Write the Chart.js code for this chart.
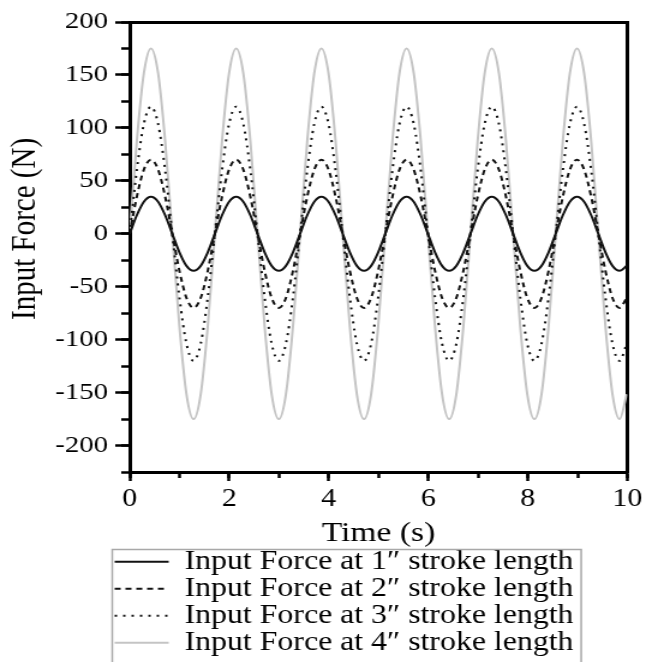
<!DOCTYPE html>
<html>
<head>
<meta charset="utf-8">
<script src="https://cdn.jsdelivr.net/npm/chart.js@4/dist/chart.umd.min.js"></script>
<style>
  html, body { margin: 0; padding: 0; background: #fff; overflow: hidden; }
  #wrap { position: absolute; left: 0; top: 0; width: 538px; height: 662px;
          transform: scaleX(1.2007); transform-origin: 0 0; }
</style>
</head>
<body>
<div id="wrap"><canvas id="c" width="538" height="662"></canvas></div>
<script>
// ---- data ----
const times = [0, 0.143, 0.285, 0.428, 0.571, 0.713, 0.856, 0.999, 1.141, 1.284, 1.427, 1.569,
  1.712, 1.855, 1.997, 2.140, 2.283, 2.425, 2.568, 2.711, 2.853, 2.996, 3.139, 3.281,
  3.424, 3.567, 3.709, 3.852, 3.995, 4.137, 4.280, 4.423, 4.565, 4.708, 4.851, 4.993,
  5.136, 5.279, 5.421, 5.564, 5.707, 5.849, 5.992, 6.135, 6.277, 6.420, 6.563, 6.705,
  6.848, 6.991, 7.133, 7.276, 7.419, 7.561, 7.704, 7.847, 7.989, 8.132, 8.275, 8.417,
  8.560, 8.703, 8.845, 8.988, 9.131, 9.273, 9.416, 9.559, 9.701, 9.844, 9.987];

const force1 = [0, 17.5, 30.3, 35, 30.3, 17.5, 0, -17.5, -30.3, -35, -30.3, -17.5,
  0, 17.5, 30.3, 35, 30.3, 17.5, 0, -17.5, -30.3, -35, -30.3, -17.5,
  0, 17.5, 30.3, 35, 30.3, 17.5, 0, -17.5, -30.3, -35, -30.3, -17.5,
  0, 17.5, 30.3, 35, 30.3, 17.5, 0, -17.5, -30.3, -35, -30.3, -17.5,
  0, 17.5, 30.3, 35, 30.3, 17.5, 0, -17.5, -30.3, -35, -30.3, -17.5,
  0, 17.5, 30.3, 35, 30.3, 17.5, 0, -17.5, -30.3, -35, -30.3];

const force2 = [0, 35, 60.6, 70, 60.6, 35, 0, -35, -60.6, -70, -60.6, -35,
  0, 35, 60.6, 70, 60.6, 35, 0, -35, -60.6, -70, -60.6, -35,
  0, 35, 60.6, 70, 60.6, 35, 0, -35, -60.6, -70, -60.6, -35,
  0, 35, 60.6, 70, 60.6, 35, 0, -35, -60.6, -70, -60.6, -35,
  0, 35, 60.6, 70, 60.6, 35, 0, -35, -60.6, -70, -60.6, -35,
  0, 35, 60.6, 70, 60.6, 35, 0, -35, -60.6, -70, -60.6];

const force3 = [0, 60, 103.9, 120, 103.9, 60, 0, -60, -103.9, -120, -103.9, -60,
  0, 60, 103.9, 120, 103.9, 60, 0, -60, -103.9, -120, -103.9, -60,
  0, 60, 103.9, 120, 103.9, 60, 0, -60, -103.9, -120, -103.9, -60,
  0, 60, 103.9, 120, 103.9, 60, 0, -60, -103.9, -120, -103.9, -60,
  0, 60, 103.9, 120, 103.9, 60, 0, -60, -103.9, -120, -103.9, -60,
  0, 60, 103.9, 120, 103.9, 60, 0, -60, -103.9, -120, -103.9];

const force4 = [0, 87.5, 151.6, 175, 151.6, 87.5, 0, -87.5, -151.6, -175, -151.6, -87.5,
  0, 87.5, 151.6, 175, 151.6, 87.5, 0, -87.5, -151.6, -175, -151.6, -87.5,
  0, 87.5, 151.6, 175, 151.6, 87.5, 0, -87.5, -151.6, -175, -151.6, -87.5,
  0, 87.5, 151.6, 175, 151.6, 87.5, 0, -87.5, -151.6, -175, -151.6, -87.5,
  0, 87.5, 151.6, 175, 151.6, 87.5, 0, -87.5, -151.6, -175, -151.6, -87.5,
  0, 87.5, 151.6, 175, 151.6, 87.5, 0, -87.5, -151.6, -175, -151.6];

const seriesLabels = [
  'Input Force at 1\u2033 stroke length',
  'Input Force at 2\u2033 stroke length',
  'Input Force at 3\u2033 stroke length',
  'Input Force at 4\u2033 stroke length'
];
const xTitle = 'Time (s)';
const yTitle = 'Input Force (N)';
const xMin = 0, xMax = 10, xMajorStep = 2, xMinorStep = 1;
const yMin = -225, yMax = 200, yMajorStep = 50, yMinorStep = 25;

// ---- chart ----
const SERIF = '"Liberation Serif", "Times New Roman", serif';
Chart.defaults.font.family = SERIF;
Chart.defaults.color = '#000';

const toPts = arr => times.map((t, i) => ({ x: t, y: arr[i] }));

const styles = [
  { borderColor: '#111111', borderWidth: 2, borderDash: [] },
  { borderColor: '#111111', borderWidth: 2, borderDash: [5, 4] },
  { borderColor: '#111111', borderWidth: 2, borderDash: [2, 5] },
  { borderColor: '#c4c4c4', borderWidth: 2, borderDash: [] }
];
const allSeries = [force1, force2, force3, force4];

const datasets = allSeries.map((arr, i) => Object.assign({
  label: seriesLabels[i],
  data: toPts(arr),
  xAxisID: 'x',
  yAxisID: 'y',
  pointRadius: 0,
  fill: false,
  cubicInterpolationMode: 'monotone',
  borderCapStyle: 'butt'
}, styles[i]));

const LEGEND_START = 95.5;
const legendFrame = {
  id: 'legendFrame',
  afterLayout(chart) {
    const lg = chart.legend;
    if (!lg || !lg.lineWidths) return;
    const pad = lg.options.labels.padding;
    const cur = (lg.left + pad + lg.right - lg.lineWidths[0]) / 2;
    const dx = LEGEND_START - cur;
    lg.left += dx; lg.right += dx;
  },
  afterDraw(chart) {
    const lg = chart.legend;
    if (!lg || !lg.lineWidths) return;
    const pad = lg.options.labels.padding;
    const start = (lg.left + pad + lg.right - lg.lineWidths[0]) / 2;
    const ctx = chart.ctx;
    ctx.save();
    ctx.strokeStyle = '#a8a8a8';
    ctx.lineWidth = 1.5;
    ctx.strokeRect(start - 2, lg.top + 1.5, lg.lineWidths[0] + 8, 200);
    ctx.restore();
  }
};

const tickFont = size => ({ size, family: SERIF });
const blackGrid = { drawOnChartArea: false, tickColor: '#000' };

new Chart(document.getElementById('c'), {
  type: 'line',
  data: { datasets },
  plugins: [legendFrame],
  options: {
    responsive: false,
    animation: false,
    devicePixelRatio: 1,
    layout: { padding: { left: 0, right: 15, top: 22, bottom: -4 } },
    plugins: {
      tooltip: { enabled: false },
      legend: {
        position: 'bottom',
        align: 'center',
        labels: {
          usePointStyle: true,
          pointStyle: 'line',
          pointStyleWidth: 45,
          padding: 0.5,
          color: '#000',
          font: { size: 26.5, family: SERIF },
          generateLabels(chart) {
            const items = Chart.defaults.plugins.legend.labels.generateLabels(chart);
            items.forEach(it => {
              const ds = chart.data.datasets[it.datasetIndex];
              it.lineDash = ds.borderDash;
              it.lineWidth = ds.borderWidth;
              it.strokeStyle = ds.borderColor;
              it.lineCap = 'butt';
              it.pointStyle = 'line';
            });
            return items;
          }
        }
      }
    },
    scales: {
      x: {
        type: 'linear', position: 'bottom', weight: 1,
        min: xMin, max: xMax,
        ticks: { stepSize: xMajorStep, font: tickFont(25), padding: 3, maxRotation: 0, autoSkip: false, color: '#000' },
        grid: Object.assign({}, blackGrid, { tickLength: 9, tickWidth: 2.5 }),
        border: { display: true, width: 3, color: '#000' },
        title: { display: true, text: xTitle, font: { size: 28, lineHeight: 1, family: SERIF }, padding: 0, color: '#000' },
        afterFit(s) { s.height = 76; }
      },
      x2: {
        type: 'linear', position: 'bottom', weight: 0,
        min: xMin, max: xMax,
        ticks: { stepSize: xMinorStep, display: false },
        grid: Object.assign({}, blackGrid, { tickLength: 6, tickWidth: 2.5 }),
        border: { display: false },
        afterFit(s) { s.height = 0; }
      },
      xTop: {
        type: 'linear', position: 'top',
        min: xMin, max: xMax,
        ticks: { display: false },
        grid: { drawOnChartArea: false, drawTicks: false },
        border: { display: true, width: 3, color: '#000' },
        afterFit(s) { s.height = 0; }
      },
      y: {
        type: 'linear', position: 'left', weight: 1,
        min: yMin, max: yMax,
        ticks: { stepSize: yMajorStep, includeBounds: false, font: tickFont(24), padding: 6, color: '#000' },
        grid: Object.assign({}, blackGrid, { tickLength: 12, tickWidth: 2.5 }),
        border: { display: true, width: 3, color: '#000' },
        title: { display: true, text: '\u2002\u2002 ' + yTitle, font: { size: 29, lineHeight: 1, family: SERIF }, padding: { top: 7, bottom: 0 }, color: '#000' },
        afterFit(s) { s.width = 108; }
      },
      y2: {
        type: 'linear', position: 'left', weight: 0,
        min: yMin, max: yMax,
        ticks: { stepSize: yMinorStep, display: false },
        grid: Object.assign({}, blackGrid, { tickLength: 7, tickWidth: 2.5 }),
        border: { display: false },
        afterFit(s) { s.width = 0; }
      },
      yRight: {
        type: 'linear', position: 'right',
        min: yMin, max: yMax,
        ticks: { display: false },
        grid: { drawOnChartArea: false, drawTicks: false },
        border: { display: true, width: 3, color: '#000' },
        afterFit(s) { s.width = 0; }
      }
    }
  }
});
</script>
</body>
</html>
